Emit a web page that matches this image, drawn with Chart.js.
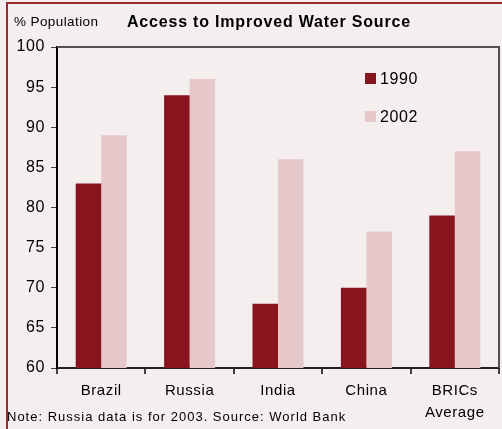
<!DOCTYPE html>
<html>
<head>
<meta charset="utf-8">
<script src="https://cdn.jsdelivr.net/npm/chart.js@4"></script>
<style>
  html, body { margin: 0; padding: 0; background: #f4eeee; }
  #wrap { width: 502px; height: 429px; position: relative; }
</style>
</head>
<body>
<div id="wrap"><canvas id="myChart" width="502" height="429"></canvas></div>
<script>
const categories = ['Brazil', 'Russia', 'India', 'China', ['BRICs', 'Average']];
const values1990 = [83, 94, 68, 70, 79];
const values2002 = [89, 96, 86, 77, 87];
const seriesNames = ['1990', '2002'];
const yTicks = [60, 65, 70, 75, 80, 85, 90, 95, 100];

const colors = ['#88151d', '#e6c8ca'];
const font = 'Liberation Sans, Arial, sans-serif';

// background, frame, texts and legend
const decor = {
    id: 'decor',
    beforeDraw(chart) {
        const c = chart.ctx;
        c.save();
        c.fillStyle = '#f4eeee';
        c.fillRect(0, 0, chart.width, chart.height);
        c.fillStyle = '#9b2a30';
        c.fillRect(6, 2, chart.width - 6, 2);
        c.fillRect(6, 2, 2, chart.height - 2);
        c.restore();
        c.letterSpacing = '0.6px';
    },
    afterDraw(chart) {
        const c = chart.ctx;
        const a = chart.chartArea;
        c.save();
        c.strokeStyle = '#505050';
        c.lineWidth = 2;
        c.beginPath();
        c.moveTo(a.left, a.top);
        c.lineTo(a.right, a.top);
        c.lineTo(a.right, a.bottom);
        c.stroke();

        c.fillStyle = '#000';
        c.textBaseline = 'middle';
        c.textAlign = 'left';
        c.letterSpacing = '0.4px';
        c.font = '13.5px ' + font;
        c.fillText('% Population', 14, 22);
        c.letterSpacing = '0.8px';
        c.font = 'bold 16px ' + font;
        c.fillText('Access to Improved Water Source', 127, 23);
        c.letterSpacing = '1px';
        c.font = '13px ' + font;
        c.fillText('Note: Russia data is for 2003. Source: World Bank', 7, 417);

        // legend
        c.letterSpacing = '0.6px';
        c.font = '16px ' + font;
        seriesNames.forEach((name, i) => {
            const y = 79 + i * 38;
            c.fillStyle = colors[i];
            c.fillRect(365, y - 6, 11, 11);
            c.fillStyle = '#000';
            c.fillText(name, 380, y + 1);
        });
        c.restore();
    }
};

new Chart(document.getElementById('myChart'), {
    type: 'bar',
    data: {
        labels: categories,
        datasets: [{
            label: seriesNames[0],
            data: values1990,
            backgroundColor: colors[0],
            categoryPercentage: 0.577,
            barPercentage: 1
        }, {
            label: seriesNames[1],
            data: values2002,
            backgroundColor: colors[1],
            categoryPercentage: 0.577,
            barPercentage: 1
        }]
    },
    options: {
        responsive: false,
        animation: false,
        layout: { padding: { top: 47, right: 3, left: 0, bottom: 0 } },
        plugins: {
            legend: { display: false },
            tooltip: { enabled: false }
        },
        scales: {
            x: {
                grid: { drawOnChartArea: false, tickLength: 6, color: '#404040', lineWidth: 2, offset: true },
                border: { color: '#202020', width: 2 },
                ticks: { color: '#000', font: { family: font, size: 15, lineHeight: 1.45 }, padding: 6, maxRotation: 0 },
                afterFit(scale) { scale.height = 61; }
            },
            y: {
                min: 60,
                max: 100,
                afterBuildTicks(scale) { scale.ticks = yTicks.map(v => ({ value: v })); },
                grid: { drawOnChartArea: false, tickLength: 6, color: '#404040', lineWidth: 1 },
                border: { color: '#000', width: 2 },
                ticks: { color: '#000', font: { family: font, size: 16 }, padding: 6 },
                afterFit(scale) { scale.width = 57; }
            }
        }
    },
    plugins: [decor]
});
</script>
</body>
</html>
